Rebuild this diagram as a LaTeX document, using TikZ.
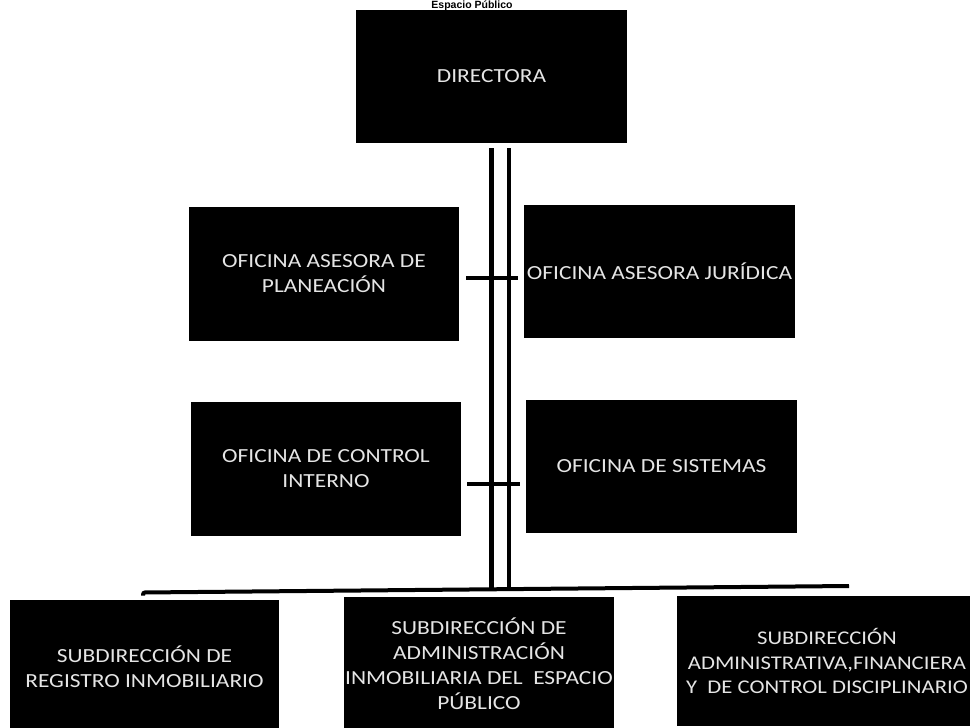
\documentclass[tikz,border=0pt]{standalone}
\usepackage{fontspec}
\setmainfont{Carlito}[FakeStretch=1.17]
\newfontfamily\arialfont{Liberation Sans}
\usetikzlibrary{calc}
\begin{document}
\begin{tikzpicture}[x=1pt,y=-1pt,
  box/.style={fill=black, text=white!90!black, inner sep=0pt, align=center,
              font=\fontsize{20}{25}\selectfont},
  conn/.style={line width=4.5pt, draw=black},
  bar/.style={line width=4pt, draw=black, rounded corners=2pt}]
\useasboundingbox (0,0) rectangle (970,728);
\fill[white] (0,0) rectangle (970,728);

\node[font=\arialfont\bfseries\fontsize{10.5}{12}\selectfont, anchor=base, inner sep=0pt] (title) at (472,8.5) {Espacio Público};

\node[box, minimum width=271pt, minimum height=133pt] (dir) at (491.5,76.5) {DIRECTORA};
\node[box, minimum width=270pt, minimum height=134pt] (pl) at (324,274) {OFICINA ASESORA DE\\PLANEACIÓN};
\node[box, minimum width=271pt, minimum height=133pt] (ju) at (659.5,271.5) {OFICINA ASESORA JURÍDICA};
\node[box, minimum width=270pt, minimum height=134pt] (ci) at (326,469) {OFICINA DE CONTROL\\INTERNO};
\node[box, minimum width=271pt, minimum height=133pt] (si) at (661.5,466.5) {OFICINA DE SISTEMAS};

\node[box, minimum width=269pt, minimum height=134pt] (rg) at (144.5,667) {SUBDIRECCIÓN DE\\REGISTRO INMOBILIARIO};
\node[box, minimum width=270pt, minimum height=134pt] (ad) at (479,664) {SUBDIRECCIÓN DE\\ADMINISTRACIÓN\\INMOBILIARIA DEL\ \ ESPACIO\\PÚBLICO};
\node[box, minimum width=300pt, minimum height=130pt, font=\fontsize{19.4}{24.5}\selectfont] (fi) at (827,661) {SUBDIRECCIÓN\\ADMINISTRATIVA,FINANCIERA\\Y\ \ DE CONTROL DISCIPLINARIO};

% bar
\coordinate (barL) at (143,595.5);
\coordinate (barLc) at (143,592.5);
\coordinate (barR) at (849,586);
\draw[bar] (barL) -- (barLc) -- (barR);

% vertical double line
\draw[conn] ($(dir.south)+(0,5)$) coordinate (v1t) -- (v1t |- 0,589.5);
\draw[conn] ($(dir.south)+(17.5,5)$) coordinate (v2t) -- (v2t |- 0,589);

% ticks
\draw[conn, line width=4pt] ($(pl.east)+(7,4)$) -- ($(ju.west)+(-6,6.5)$);
\draw[conn, line width=4pt] ($(ci.east)+(6,15)$) -- ($(si.west)+(-6,17.5)$);
\end{tikzpicture}
\end{document}
